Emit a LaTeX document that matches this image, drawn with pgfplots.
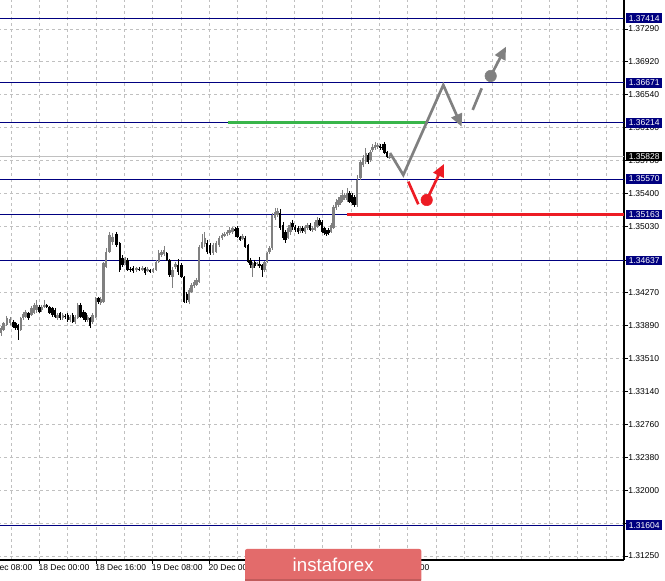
\documentclass[border=0pt]{standalone}
\usepackage{fontspec}
\setmainfont{Liberation Sans}
\usepackage{pgfplots}
\pgfplotsset{compat=1.18}
\usepackage{pgfplotstable}
\usetikzlibrary{arrows.meta}

\definecolor{lvl}{RGB}{0,0,128}
\definecolor{gridc}{RGB}{192,192,192}
\definecolor{bull}{RGB}{128,128,128}
\definecolor{fgray}{RGB}{128,128,128}
\definecolor{fred}{RGB}{237,28,36}
\definecolor{fgreen}{RGB}{57,181,74}
\definecolor{logo}{RGB}{227,107,107}

\pgfplotstableread{
x o h l c
1.0 1.33807 1.33887 1.33773 1.33865
3.5 1.33842 1.33933 1.33830 1.33922
6.7 1.33899 1.34002 1.33887 1.33979
10.0 1.33922 1.33991 1.33899 1.33968
13.3 1.33933 1.33956 1.33865 1.33876
15.5 1.33922 1.33933 1.33842 1.33865
18.0 1.33899 1.33910 1.33727 1.33842
20.7 1.33842 1.33991 1.33830 1.33979
23.0 1.33979 1.34048 1.33956 1.34025
25.5 1.33991 1.34071 1.33979 1.34048
28.3 1.34037 1.34048 1.33956 1.33979
31.5 1.34014 1.34117 1.34002 1.34094
34.0 1.34037 1.34151 1.34025 1.34128
36.5 1.34071 1.34185 1.34037 1.34128
39.3 1.34105 1.34128 1.34037 1.34048
41.7 1.34071 1.34128 1.34048 1.34105
44.3 1.34105 1.34185 1.34094 1.34128
46.7 1.34128 1.34140 1.34094 1.34105
49.5 1.34105 1.34117 1.34025 1.34037
52.3 1.34094 1.34105 1.33991 1.34014
55.0 1.34071 1.34094 1.33979 1.33991
57.5 1.33979 1.34037 1.33956 1.34014
60.0 1.34037 1.34048 1.33956 1.33979
62.7 1.33979 1.34037 1.33956 1.34014
65.0 1.34002 1.34025 1.33968 1.33991
67.7 1.34014 1.34037 1.33933 1.33956
70.0 1.33956 1.34014 1.33933 1.33991
72.7 1.34014 1.34037 1.33922 1.33933
75.0 1.33933 1.34014 1.33910 1.33991
77.7 1.33979 1.34151 1.33968 1.34128
80.5 1.34128 1.34151 1.33979 1.33991
83.3 1.34048 1.34071 1.33956 1.33979
85.5 1.34037 1.34048 1.33933 1.33956
87.7 1.33956 1.34014 1.33933 1.33991
90.0 1.33979 1.33991 1.33865 1.33887
92.3 1.33933 1.34037 1.33910 1.34014
95.7 1.33991 1.34220 1.33979 1.34208
98.3 1.34208 1.34220 1.34140 1.34163
100.7 1.34151 1.34220 1.34128 1.34197
103.3 1.34163 1.34621 1.34151 1.34609
106.0 1.34564 1.34781 1.34552 1.34735
109.5 1.34735 1.34964 1.34724 1.34930
112.5 1.34850 1.34953 1.34815 1.34907
116.5 1.34941 1.34964 1.34793 1.34815
119.7 1.34838 1.34850 1.34507 1.34529
122.5 1.34667 1.34701 1.34564 1.34587
125.0 1.34609 1.34678 1.34587 1.34655
127.5 1.34644 1.34667 1.34518 1.34529
130.5 1.34541 1.34564 1.34507 1.34529
133.0 1.34552 1.34575 1.34495 1.34518
136.5 1.34529 1.34564 1.34507 1.34552
139.0 1.34541 1.34564 1.34518 1.34529
142.5 1.34529 1.34575 1.34518 1.34552
145.0 1.34552 1.34564 1.34472 1.34495
147.5 1.34518 1.34564 1.34507 1.34541
150.0 1.34529 1.34541 1.34495 1.34507
153.0 1.34507 1.34552 1.34495 1.34541
156.0 1.34529 1.34644 1.34518 1.34621
158.7 1.34621 1.34758 1.34609 1.34724
161.5 1.34701 1.34758 1.34678 1.34735
164.0 1.34712 1.34804 1.34690 1.34758
166.7 1.34724 1.34735 1.34632 1.34644
169.5 1.34644 1.34655 1.34449 1.34472
172.5 1.34449 1.34564 1.34323 1.34529
175.5 1.34564 1.34621 1.34541 1.34598
178.0 1.34587 1.34655 1.34472 1.34507
181.5 1.34587 1.34609 1.34438 1.34449
184.0 1.34449 1.34461 1.34151 1.34163
186.7 1.34254 1.34277 1.34151 1.34185
189.0 1.34163 1.34323 1.34140 1.34300
191.5 1.34277 1.34381 1.34266 1.34358
194.0 1.34346 1.34415 1.34323 1.34392
196.5 1.34358 1.34438 1.34346 1.34415
199.0 1.34392 1.34815 1.34381 1.34793
202.0 1.34781 1.34941 1.34770 1.34850
204.7 1.34827 1.34964 1.34793 1.34896
207.0 1.34838 1.34873 1.34712 1.34735
210.0 1.34815 1.34838 1.34701 1.34724
213.0 1.34724 1.34838 1.34701 1.34815
216.0 1.34735 1.34861 1.34724 1.34838
219.0 1.34815 1.34918 1.34793 1.34896
222.0 1.34896 1.34953 1.34873 1.34930
224.5 1.34918 1.34964 1.34907 1.34941
227.0 1.34941 1.34987 1.34918 1.34964
229.5 1.34953 1.35021 1.34930 1.34987
232.5 1.34964 1.35021 1.34941 1.35010
235.0 1.34998 1.35021 1.34907 1.34975
237.5 1.35010 1.35033 1.34896 1.34907
240.0 1.34907 1.34918 1.34861 1.34873
242.5 1.34884 1.34941 1.34873 1.34918
245.0 1.34896 1.34918 1.34781 1.34793
248.0 1.34815 1.34827 1.34609 1.34621
250.3 1.34644 1.34667 1.34552 1.34587
252.5 1.34552 1.34621 1.34449 1.34609
254.7 1.34621 1.34644 1.34552 1.34575
257.0 1.34598 1.34621 1.34575 1.34609
259.5 1.34598 1.34678 1.34552 1.34575
262.0 1.34587 1.34598 1.34449 1.34529
264.5 1.34529 1.34632 1.34507 1.34621
267.0 1.34621 1.34735 1.34609 1.34724
269.5 1.34735 1.34804 1.34712 1.34781
272.0 1.34781 1.35182 1.34758 1.35159
275.0 1.35125 1.35239 1.35102 1.35193
277.5 1.35159 1.35239 1.35136 1.35205
280.0 1.35182 1.35228 1.34987 1.35010
283.0 1.35044 1.35079 1.34873 1.34896
285.5 1.34964 1.34987 1.34838 1.34873
288.0 1.34896 1.35044 1.34884 1.35010
290.5 1.34964 1.35079 1.34930 1.35044
292.5 1.35067 1.35102 1.34987 1.35021
295.0 1.35021 1.35044 1.34964 1.34987
298.0 1.35010 1.35033 1.34941 1.34964
300.0 1.34975 1.35033 1.34953 1.35010
302.5 1.35010 1.35033 1.34953 1.34975
305.0 1.34964 1.35044 1.34941 1.35021
307.5 1.35010 1.35067 1.34987 1.35044
310.0 1.35044 1.35067 1.34975 1.34987
312.5 1.34987 1.35033 1.34964 1.35010
315.0 1.34987 1.35102 1.34975 1.35079
317.5 1.35021 1.35136 1.35010 1.35102
319.5 1.35102 1.35125 1.35033 1.35044
322.0 1.35079 1.35102 1.34953 1.34964
324.5 1.35010 1.35021 1.34930 1.34953
326.5 1.34964 1.34987 1.34918 1.34941
328.5 1.34987 1.35010 1.34930 1.34953
331.0 1.34964 1.35067 1.34953 1.35044
333.5 1.35010 1.35273 1.34998 1.35250
336.0 1.35239 1.35342 1.35216 1.35308
338.5 1.35273 1.35365 1.35250 1.35330
340.5 1.35296 1.35388 1.35273 1.35365
342.5 1.35330 1.35445 1.35308 1.35388
344.5 1.35354 1.35411 1.35330 1.35388
347.0 1.35330 1.35468 1.35308 1.35411
349.5 1.35411 1.35434 1.35296 1.35308
352.0 1.35388 1.35411 1.35273 1.35296
354.5 1.35365 1.35388 1.35250 1.35273
357.0 1.35273 1.35617 1.35250 1.35560
360.5 1.35583 1.35789 1.35560 1.35766
363.0 1.35732 1.35846 1.35709 1.35812
365.7 1.35766 1.35926 1.35743 1.35869
368.0 1.35846 1.35869 1.35743 1.35766
370.3 1.35789 1.35903 1.35766 1.35880
372.5 1.35903 1.35972 1.35880 1.35938
375.0 1.35926 1.35995 1.35903 1.35961
377.5 1.35938 1.35984 1.35915 1.35961
380.0 1.35949 1.35972 1.35903 1.35926
382.0 1.35938 1.35972 1.35903 1.35926
384.5 1.35972 1.35995 1.35858 1.35869
387.0 1.35880 1.35892 1.35812 1.35823
389.5 1.35812 1.35846 1.35800 1.35828
}\candles

\begin{document}
\begin{tikzpicture}
\begin{axis}[
  at={(-15pt,0pt)}, anchor=south west,
  width=483pt, height=420pt, scale only axis,
  xmin=-20, xmax=624, ymin=1.31204, ymax=1.37622,
  axis x line*=bottom, axis y line*=right,
  axis line style={black, line width=0.9pt},
  xtick={-17.7,39.3,96.0,152.6,209.3,266.0,322.6,379.3},
  xticklabels={17 Dec 08:00,18 Dec 00:00,18 Dec 16:00,19 Dec 08:00,20 Dec 00:00,20 Dec 16:00,21 Dec 08:00,22 Dec 00:00},
  minor xtick={11.0,67.6,124.3,181.0,237.6,294.3,350.9,407.6,436.0,464.3,492.6,520.9,549.3,577.6,606.0},
  ytick={1.31250,1.31620,1.32000,1.32380,1.32760,1.33140,1.33510,1.33890,1.34270,1.34640,1.35030,1.35400,1.35780,1.36160,1.36540,1.36920,1.37290},
  yticklabels={1.31250,1.31620,1.32000,1.32380,1.32760,1.33140,1.33510,1.33890,1.34270,1.34640,1.35030,1.35400,1.35780,1.36160,1.36540,1.36920,1.37290},
  grid=both,
  major grid style={gridc, dash pattern=on 2.25pt off 2.25pt, line width=0.6pt},
  minor grid style={gridc, dash pattern=on 2.25pt off 2.25pt, line width=0.6pt},
  minor tick length=0pt,
  major tick length=3pt,
  tick align=outside,
  tick style={black, line width=0.6pt},
  ticklabel style={font=\fontsize{6.4}{7}\selectfont},
  xticklabel style={anchor=north west, inner sep=0pt, xshift=-0.75pt},
  yticklabel style={anchor=west, inner sep=0pt},
  /pgf/number format/assume math mode=true,
  clip=false,
]
% level lines
\addplot[lvl, line width=0.75pt, forget plot] coordinates {(-20,1.37414) (624,1.37414)};
\addplot[lvl, line width=0.75pt, forget plot] coordinates {(-20,1.36671) (624,1.36671)};
\addplot[lvl, line width=0.75pt, forget plot] coordinates {(-20,1.36214) (624,1.36214)};
\addplot[lvl, line width=0.75pt, forget plot] coordinates {(-20,1.35570) (624,1.35570)};
\addplot[lvl, line width=0.75pt, forget plot] coordinates {(-20,1.35163) (624,1.35163)};
\addplot[lvl, line width=0.75pt, forget plot] coordinates {(-20,1.34637) (624,1.34637)};
\addplot[lvl, line width=0.75pt, forget plot] coordinates {(-20,1.31604) (624,1.31604)};
% bid line
\addplot[gridc, line width=0.75pt, forget plot] coordinates {(-20,1.35828) (624,1.35828)};

% wicks
\addplot[draw=none, mark=none, forget plot,
  restrict expr to domain={\thisrow{c}-\thisrow{o}}{0:1},
  error bars/.cd, y dir=minus, y explicit, error mark=none,
  error bar style={draw=bull, line width=0.75pt, solid}]
  table[x=x, y=h, y error minus expr={\thisrow{h}-\thisrow{l}}] {\candles};
\addplot[draw=none, mark=none, forget plot,
  restrict expr to domain={\thisrow{c}-\thisrow{o}}{-1:-0.000001},
  error bars/.cd, y dir=minus, y explicit, error mark=none,
  error bar style={draw=black, line width=0.75pt, solid}]
  table[x=x, y=h, y error minus expr={\thisrow{h}-\thisrow{l}}] {\candles};
% bodies
\addplot[draw=none, mark=none, forget plot,
  restrict expr to domain={\thisrow{c}-\thisrow{o}}{0:1},
  error bars/.cd, y dir=minus, y explicit, error mark=none,
  error bar style={draw=bull, line width=1.8pt, solid}]
  table[x=x, y=c, y error minus expr={\thisrow{c}-\thisrow{o}+0.00004}] {\candles};
\addplot[draw=none, mark=none, forget plot,
  restrict expr to domain={\thisrow{c}-\thisrow{o}}{-1:-0.000001},
  error bars/.cd, y dir=minus, y explicit, error mark=none,
  error bar style={draw=black, line width=1.8pt, solid}]
  table[x=x, y=o, y error minus expr={\thisrow{o}-\thisrow{c}+0.00004}] {\candles};

% target lines
\addplot[fgreen, line width=2.25pt, forget plot] coordinates {(228,1.36214) (428,1.36214)};
\addplot[fred, line width=2.25pt, forget plot] coordinates {(347,1.35163) (624,1.35163)};

% forecast (gray)
\addplot[fgray, line width=2pt, forget plot, -{Triangle[length=9.5pt,width=8.5pt]}]
  coordinates {(390,1.35869) (403.3,1.35617) (443.3,1.36648) (461.7,1.36170)};
\addplot[fgray, line width=2pt, forget plot] coordinates {(472.7,1.36362) (481.7,1.36610)};
\addplot[fgray, line width=2pt, forget plot, -{Triangle[length=9.5pt,width=8.5pt]}]
  coordinates {(490.7,1.36751) (506,1.37087)};
\addplot[only marks, mark=*, mark size=4.3pt, mark options={fill=fgray, draw=fgray}, forget plot]
  coordinates {(490.7,1.36751)};
% forecast (red)
\addplot[fred, line width=2pt, forget plot] coordinates {(408.3,1.35540) (418.3,1.35281)};
\addplot[fred, line width=2pt, forget plot, -{Triangle[length=9.5pt,width=8.5pt]}]
  coordinates {(426.7,1.35330) (444,1.35743)};
\addplot[only marks, mark=*, mark size=4.3pt, mark options={fill=fred, draw=fred}, forget plot]
  coordinates {(426.7,1.35330)};

\coordinate (b1) at (axis cs:624,1.37414);
\coordinate (b2) at (axis cs:624,1.36671);
\coordinate (b3) at (axis cs:624,1.36214);
\coordinate (b4) at (axis cs:624,1.35570);
\coordinate (b5) at (axis cs:624,1.35163);
\coordinate (b6) at (axis cs:624,1.34637);
\coordinate (b7) at (axis cs:624,1.31604);
\coordinate (b8) at (axis cs:624,1.35828);
\end{axis}
\tikzset{lbl/.style={fill=lvl, text=white, anchor=west, inner sep=0pt,
  minimum width=27pt, minimum height=7.4pt, font=\fontsize{6.4}{7}\selectfont}}
\node[lbl] at ([xshift=1.5pt]b1) {1.37414};
\node[lbl] at ([xshift=1.5pt]b2) {1.36671};
\node[lbl] at ([xshift=1.5pt]b3) {1.36214};
\node[lbl] at ([xshift=1.5pt]b4) {1.35570};
\node[lbl] at ([xshift=1.5pt]b5) {1.35163};
\node[lbl] at ([xshift=1.5pt]b6) {1.34637};
\node[lbl] at ([xshift=1.5pt]b7) {1.31604};
\node[lbl, fill=black] at ([xshift=1.5pt]b8) {1.35828};
% logo
\fill[logo, rounded corners=1.5pt] (183.75pt,-16.5pt) rectangle (316pt,8.25pt);
\fill[logo!85!black] (183.75pt,-16.5pt) rectangle (316pt,-14.5pt);
\node[text=white, font=\fontsize{14}{14}\selectfont] at (249.9pt,-3.6pt) {instaforex};
\pgfresetboundingbox
\useasboundingbox (0pt,-15.75pt) rectangle (498.75pt,420pt);
\end{tikzpicture}
\end{document}
